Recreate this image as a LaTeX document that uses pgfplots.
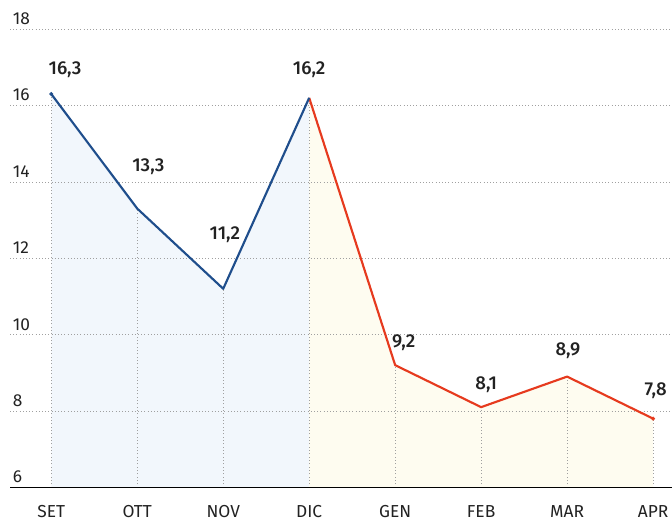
\documentclass[border=0pt]{standalone}
\usepackage{fontspec}
\setmainfont{Fira Sans}
\newfontfamily\medfont{Fira Sans Medium}
\usepackage{pgfplots}
\pgfplotsset{compat=1.18}
\usetikzlibrary{calc}
\definecolor{bl}{HTML}{1F4E8C}
\definecolor{rd}{HTML}{E63A1E}
\definecolor{blf}{HTML}{F2F7FC}
\definecolor{ylf}{HTML}{FEFCF0}
\definecolor{gr}{HTML}{A0A0A0}
\definecolor{tx}{HTML}{222222}
\pgfplotsset{layers/mylayers/.define layer set={axis background,pre main,axis grid,axis ticks,axis lines,axis tick labels,main,axis descriptions,axis foreground}{}}
\begin{document}
\begin{tikzpicture}
\begin{axis}[name=ax, set layers=mylayers, scale only axis, width=496.5pt, height=358pt,
  xmin=-0.48, xmax=7.22, ymin=6, ymax=18.5,
  axis lines=left, x axis line style={-, black, line width=1pt}, y axis line style={draw=none},
  xtick={0,...,7}, xticklabels={SET,OTT,NOV,DIC,GEN,FEB,MAR,APR},
  ytick={6,8,...,18}, major tick length=0pt,
  ymajorgrids, grid style={dotted, gr, line width=0.5pt},
  /pgf/number format/assume math mode=true,
  yticklabel style={anchor=south west, inner sep=0pt, xshift=2pt, yshift=3pt, font=\fontsize{13}{13}\selectfont, text=tx},
  xticklabel style={yshift=-10pt, font=\fontsize{13}{13}\selectfont, text=tx},
  clip=false,
]
\addplot[on layer=pre main, fill=blf, draw=none] coordinates {(0,6)(0,16.3)(1,13.3)(2,11.2)(3,16.2)(3,6)} -- cycle;
\addplot[on layer=pre main, fill=ylf, draw=none] coordinates {(3,6)(3,16.2)(4,9.2)(5,8.1)(6,8.9)(7,7.8)(7,6)} -- cycle;
\addplot[ycomb, dotted, gr, line width=0.5pt] coordinates {(0,16.3)(1,13.3)(2,11.2)(3,16.2)(4,9.2)(5,8.1)(6,8.9)(7,7.8)};
\addplot[rd, line width=1.6pt, line join=round] coordinates {(3,16.2)(4,9.2)(5,8.1)(6,8.9)(7,7.8)};
\addplot[bl, line width=1.6pt, line join=round] coordinates {(0,16.3)(1,13.3)(2,11.2)(3,16.2)};
\addplot[only marks, mark=*, mark size=1.3pt, bl] coordinates {(0,16.3)};
\addplot[only marks, mark=*, mark size=1.3pt, rd] coordinates {(7,7.8)};
\addplot[black, line width=1pt] coordinates {(-0.48,6)(7.22,6)};
\begin{scope}[every node/.style={font=\medfont\fontsize{14}{14}\selectfont, text=tx}]
\node at (axis cs:0.16,16.94) {16,3};
\node at (axis cs:1.13,14.39) {13,3};
\node at (axis cs:2.02,12.61) {11,2};
\node at (axis cs:3.0,16.94) {16,2};
\node at (axis cs:4.1,9.78) {9,2};
\node at (axis cs:5.06,8.68) {8,1};
\node at (axis cs:6.01,9.59) {8,9};
\node at (axis cs:7.03,8.53) {7,8};
\end{scope}
\end{axis}
\pgfresetboundingbox
\useasboundingbox ($(ax.south west)+(-7.5pt,-29pt)$) rectangle ($(ax.north east)+(0,7.5pt)$);
\end{tikzpicture}
\end{document}
